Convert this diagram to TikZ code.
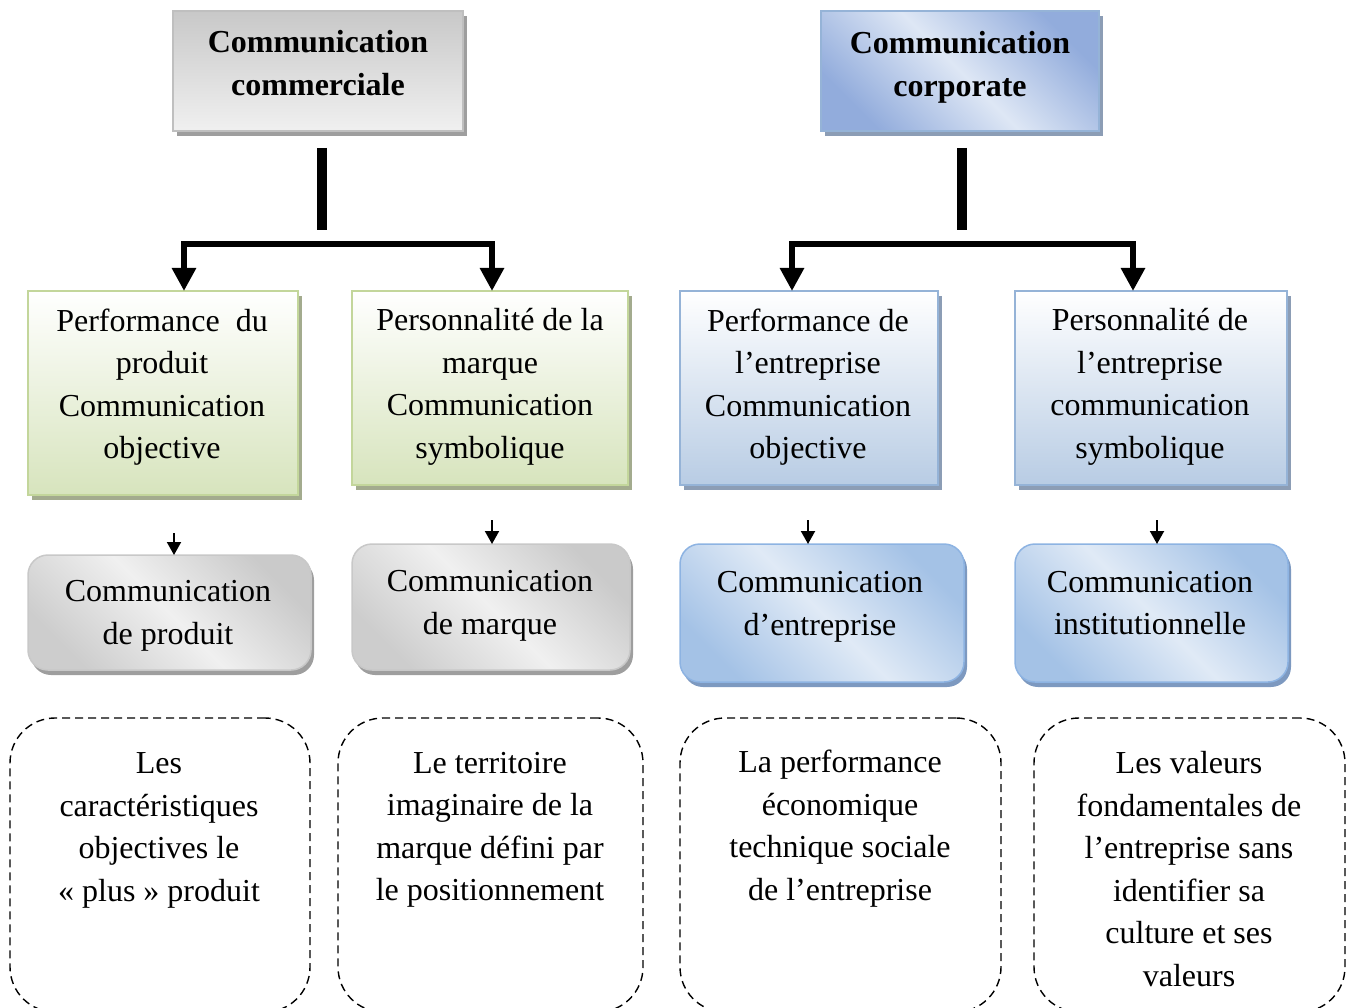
\documentclass[tikz,border=0pt]{standalone}
\usepackage{fontspec}
\setmainfont{Liberation Serif}
\usetikzlibrary{arrows.meta,shadows,calc}
\definecolor{gborder}{HTML}{BFBFBF}
\definecolor{gshadow}{HTML}{9E9E9E}
\definecolor{bborder}{HTML}{95B3D7}
\definecolor{bshadow}{HTML}{8C9DB5}
\definecolor{grborder}{HTML}{C3D69B}
\definecolor{grshadow}{HTML}{A3AB8E}
\definecolor{grfill}{HTML}{D7E4BD}
\definecolor{bfill}{HTML}{B8CCE4}
\definecolor{rbborder}{HTML}{8DB3E2}
\definecolor{rbshadow}{HTML}{7D99C0}
\tikzset{
  txt/.style={align=center, inner sep=0pt, font=\fontsize{32}{42.5}\selectfont},
  btxt/.style={txt, font=\fontsize{32}{42.5}\selectfont\bfseries},
  topgray/.style={draw=gborder, line width=1.2pt, top color={rgb,255:red,200;green,200;blue,200}, bottom color={rgb,255:red,240;green,240;blue,240},
     drop shadow={shadow xshift=4pt, shadow yshift=-5pt, fill=gshadow, opacity=1}},
  topblue/.style={draw=bborder, line width=1.2pt, left color={rgb,255:red,146;green,172;blue,220}, right color={rgb,255:red,146;green,172;blue,220}, middle color={rgb,255:red,222;green,231;blue,245}, shading angle=-45,
     drop shadow={shadow xshift=4pt, shadow yshift=-5pt, fill=bshadow, opacity=1}},
  greenbox/.style={draw=grborder, line width=1.5pt, top color=white, bottom color=grfill,
     drop shadow={shadow xshift=4pt, shadow yshift=-5pt, fill=grshadow, opacity=1}},
  bluebox/.style={draw=bborder, line width=1.5pt, top color=white, bottom color=bfill,
     drop shadow={shadow xshift=4pt, shadow yshift=-5pt, fill=bshadow, opacity=1}},
  rgray/.style={draw={rgb,255:red,200;green,200;blue,200}, line width=1.5pt, rounded corners=20pt,
     left color={rgb,255:red,202;green,202;blue,202}, right color={rgb,255:red,205;green,205;blue,205}, middle color={rgb,255:red,240;green,240;blue,240}, shading angle=-45,
     drop shadow={shadow xshift=3pt, shadow yshift=-5pt, fill=gshadow, opacity=1}},
  rblue/.style={draw=rbborder, line width=1.5pt, rounded corners=20pt,
     left color={rgb,255:red,164;green,194;blue,230}, right color={rgb,255:red,164;green,194;blue,230}, middle color={rgb,255:red,224;green,234;blue,246}, shading angle=-45,
     drop shadow={shadow xshift=3pt, shadow yshift=-5pt, fill=rbshadow, opacity=1}},
  dbox/.style={draw=black, line width=1.4pt, dash pattern=on 8pt off 5pt, rounded corners=45pt},
  bar/.style={line width=10pt},
  bigarrow/.style={line width=6pt, -{Triangle[width=23pt,length=23pt]}},
  smallarrow/.style={line width=2pt, -{Triangle[width=14pt,length=13pt]}},
}
\begin{document}
\begin{tikzpicture}[x=1pt,y=-1pt]
\useasboundingbox (0,0) rectangle (1354,1008);
% top boxes
\node[topgray, minimum width=290, minimum height=120] (t1) at (318,71) {};
\node[btxt] (t1t) at (318,63) {Communication\\commerciale};
\node[topblue, minimum width=278, minimum height=120] (t2) at (960,71) {};
\node[btxt] (t2t) at (960,67.5) {Communication\\corporate};
% row 2
\node[greenbox, minimum width=270, minimum height=204] (b1) at (163,393) {};
\node[txt] (b1t) at (162,387) {Performance\ \ du\\produit\\Communication\\objective};
\node[greenbox, minimum width=276, minimum height=194] (b2) at (490,388) {};
\node[txt] (b2t) at (490,387) {Personnalité de la\\marque\\Communication\\symbolique};
\node[bluebox, minimum width=258, minimum height=194] (b3) at (809,388) {};
\node[txt] (b3t) at (808,387) {Performance de\\l’entreprise\\Communication\\objective};
\node[bluebox, minimum width=272, minimum height=194] (b4) at (1151,388) {};
\node[txt] (b4t) at (1150,387) {Personnalité de\\l’entreprise\\communication\\symbolique};
% row 3
\node[rgray, minimum width=283, minimum height=115] (c1) at (169.5,612.5) {};
\node[txt] (c1t) at (168,616) {Communication\\de produit};
\node[rgray, minimum width=278, minimum height=126] (c2) at (491,607) {};
\node[txt] (c2t) at (490,606) {Communication\\de marque};
\node[rblue, minimum width=284, minimum height=138] (c3) at (822,613) {};
\node[txt] (c3t) at (820,607) {Communication\\d’entreprise};
\node[rblue, minimum width=273, minimum height=138] (c4) at (1151.5,613) {};
\node[txt] (c4t) at (1150,603) {Communication\\institutionnelle};
% dashed boxes
\node[dbox, minimum width=300, minimum height=294] (d1) at (160,865) {};
\node[txt] (d1t) at (159,830.5) {Les\\caractéristiques\\objectives le\\«~plus~» produit};
\node[dbox, minimum width=305, minimum height=294] (d2) at (490.5,865) {};
\node[txt] (d2t) at (490,830) {Le territoire\\imaginaire de la\\marque défini par\\le positionnement};
\node[dbox, minimum width=321, minimum height=294] (d3) at (840.5,865) {};
\node[txt] (d3t) at (840,828.5) {La performance\\économique\\technique sociale\\de l’entreprise};
\node[dbox, minimum width=311, minimum height=294] (d4) at (1189.5,865) {};
\node[txt] (d4t) at (1189,869) {Les valeurs\\fondamentales de\\l’entreprise sans\\identifier sa\\culture et ses\\valeurs};
% connectors
\coordinate (v1a) at (322,148); \coordinate (v1b) at (322,230);
\coordinate (h1) at (322,244);
\coordinate (a1) at (184,291); \coordinate (a2) at (492,291);
\draw[bar] (v1a) -- (v1b);
\draw[bigarrow] (h1) -| (a1);
\draw[bigarrow] (h1) -| (a2);
\coordinate (v2a) at (962,148); \coordinate (v2b) at (962,230);
\coordinate (h2) at (962,244);
\coordinate (a3) at (792,291); \coordinate (a4) at (1133,291);
\draw[bar] (v2a) -- (v2b);
\draw[bigarrow] (h2) -| (a3);
\draw[bigarrow] (h2) -| (a4);
% small arrows
\coordinate (s1a) at (174,533); \coordinate (s1b) at (174,555);
\coordinate (s2a) at (492,520); \coordinate (s2b) at (492,544);
\coordinate (s3a) at (808,520); \coordinate (s3b) at (808,544);
\coordinate (s4a) at (1157,520); \coordinate (s4b) at (1157,544);
\draw[smallarrow] (s1a) -- (s1b);
\draw[smallarrow] (s2a) -- (s2b);
\draw[smallarrow] (s3a) -- (s3b);
\draw[smallarrow] (s4a) -- (s4b);
\end{tikzpicture}
\end{document}
